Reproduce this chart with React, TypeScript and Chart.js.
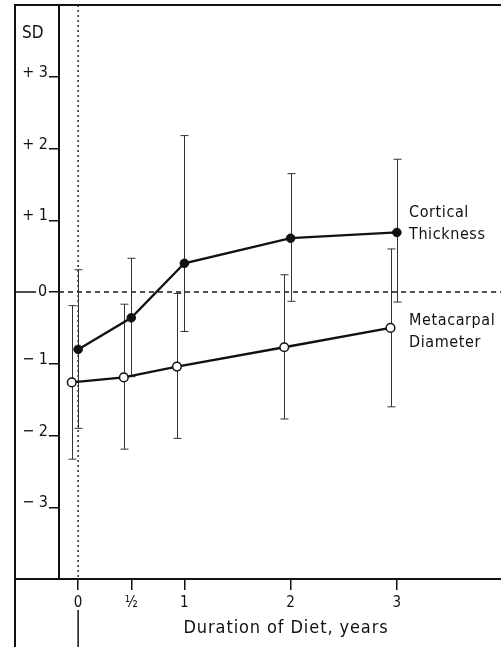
import React, { useEffect, useRef } from "react";
import { Chart, registerables } from "chart.js";
Chart.register(...registerables);

const FONT = '"DejaVu Sans Condensed", "Liberation Sans Narrow", "DejaVu Sans", sans-serif';

// Axis ticks
const xTicks = [0, 0.5, 1, 2, 3];
const xTickLabels = ["0", "½", "1", "2", "3"];
const yTicks = [3, 2, 1, 0, -1, -2, -3];
const yTickLabels = ["+ 3", "+ 2", "+ 1", "0", "− 1", "− 2", "− 3"];

// Cortical Thickness (filled circles)
const corticalX = [0, 0.5, 1, 2, 3];
const corticalY = [-0.8, -0.36, 0.4, 0.75, 0.83];
const corticalHigh = [0.31, 0.47, 2.18, 1.65, 1.85];
const corticalLow = [-1.9, -1.18, -0.55, -0.13, -0.14];

// Metacarpal Diameter (open circles)
const metacarpalX = [-0.06, 0.43, 0.93, 1.94, 2.94];
const metacarpalY = [-1.26, -1.19, -1.04, -0.77, -0.5];
const metacarpalHigh = [-0.19, -0.17, -0.02, 0.24, 0.6];
const metacarpalLow = [-2.33, -2.19, -2.04, -1.77, -1.6];

const errorSeries = [
  { xs: corticalX, hi: corticalHigh, lo: corticalLow },
  { xs: metacarpalX, hi: metacarpalHigh, lo: metacarpalLow },
];

const decor = {
  id: "decor",
  beforeDatasetsDraw(chart: any) {
    const { ctx, chartArea, scales } = chart;
    const x = scales.x;
    const y = scales.y;
    ctx.save();
    ctx.strokeStyle = "#1a1a1a";
    // dotted vertical line at time 0
    const x0 = x.getPixelForValue(0);
    ctx.lineWidth = 1.4;
    ctx.setLineDash([2, 3]);
    ctx.beginPath();
    ctx.moveTo(x0, chartArea.top);
    ctx.lineTo(x0, chartArea.bottom);
    ctx.stroke();
    // dashed horizontal line at SD 0
    const y0 = y.getPixelForValue(0);
    ctx.setLineDash([5, 4]);
    ctx.lineWidth = 1.3;
    ctx.beginPath();
    ctx.moveTo(chartArea.left, y0);
    ctx.lineTo(chartArea.right, y0);
    ctx.stroke();
    ctx.setLineDash([]);
    // error bars
    ctx.lineWidth = 1;
    ctx.strokeStyle = "#333";
    errorSeries.forEach((s) => {
      s.xs.forEach((xv, i) => {
        const px = Math.round(x.getPixelForValue(xv)) + 0.5;
        const ph = y.getPixelForValue(s.hi[i]);
        const pl = y.getPixelForValue(s.lo[i]);
        ctx.beginPath();
        ctx.moveTo(px, ph);
        ctx.lineTo(px, pl);
        ctx.moveTo(px - 4, ph);
        ctx.lineTo(px + 4, ph);
        ctx.moveTo(px - 4, pl);
        ctx.lineTo(px + 4, pl);
        ctx.stroke();
      });
    });
    ctx.restore();
  },
  afterDraw(chart: any) {
    const { ctx, chartArea, scales } = chart;
    const x = scales.x;
    const y = scales.y;
    ctx.save();
    ctx.strokeStyle = "#111";
    ctx.lineWidth = 2;
    // outer frame
    ctx.beginPath();
    ctx.moveTo(15, 647);
    ctx.lineTo(15, chartArea.top);
    ctx.lineTo(chartArea.right, chartArea.top);
    ctx.moveTo(15, chartArea.bottom);
    ctx.lineTo(chartArea.left, chartArea.bottom);
    ctx.stroke();
    // line below the 0 label
    const x0 = x.getPixelForValue(0);
    ctx.lineWidth = 1.5;
    ctx.beginPath();
    ctx.moveTo(x0, 610);
    ctx.lineTo(x0, 647);
    ctx.stroke();
    // y tick labels
    ctx.fillStyle = "#111";
    ctx.font = `16px ${FONT}`;
    yTicks.forEach((v, i) => {
      const py = y.getPixelForValue(v);
      if (v === 0) {
        ctx.textAlign = "center";
        ctx.textBaseline = "middle";
        ctx.fillText(yTickLabels[i], 42.5, py);
        ctx.beginPath();
        ctx.moveTo(15, py);
        ctx.lineTo(36, py);
        ctx.stroke();
      } else {
        ctx.textAlign = "right";
        ctx.textBaseline = "alphabetic";
        ctx.fillText(yTickLabels[i], 48, py);
      }
    });
    // SD label
    ctx.textAlign = "left";
    ctx.textBaseline = "middle";
    ctx.font = `17px ${FONT}`;
    ctx.fillText("SD", 22, 34);
    // series labels
    ctx.font = `16px ${FONT}`;
    (ctx as any).letterSpacing = "0.6px";
    ctx.fillText("Cortical", 409, 213);
    ctx.fillText("Thickness", 409, 235);
    ctx.fillText("Metacarpal", 409, 321);
    ctx.fillText("Diameter", 409, 343);
    // x axis title
    ctx.textAlign = "center";
    ctx.textBaseline = "alphabetic";
    ctx.font = `18px ${FONT}`;
    (ctx as any).letterSpacing = "0.9px";
    ctx.fillText("Duration of Diet, years", 286, 633);
    (ctx as any).letterSpacing = "0px";
    ctx.restore();
  },
};

export default function App() {
  const ref = useRef<HTMLCanvasElement>(null);
  useEffect(() => {
    if (!ref.current) return;
    Chart.defaults.font.family = FONT;
    const chart = new Chart(ref.current, {
      type: "line",
      data: {
        datasets: [
          {
            label: "Cortical Thickness",
            data: corticalX.map((xv, i) => ({ x: xv, y: corticalY[i] })),
            borderColor: "#111",
            borderWidth: 2.3,
            pointRadius: 4.3,
            pointBackgroundColor: "#111",
            pointBorderColor: "#111",
            pointBorderWidth: 1,
            tension: 0,
          },
          {
            label: "Metacarpal Diameter",
            data: metacarpalX.map((xv, i) => ({ x: xv, y: metacarpalY[i] })),
            borderColor: "#111",
            borderWidth: 2.3,
            pointRadius: 4.3,
            pointBackgroundColor: "#fff",
            pointBorderColor: "#111",
            pointBorderWidth: 1.5,
            tension: 0,
          },
        ],
      },
      options: {
        animation: false,
        responsive: false,
        maintainAspectRatio: false,
        layout: { autoPadding: false, padding: { top: 5, left: 0, right: 0, bottom: 0 } },
        plugins: { legend: { display: false }, tooltip: { enabled: false } },
        scales: {
          x: {
            type: "linear",
            min: -0.18,
            max: 3.98,
            afterBuildTicks: (scale: any) => {
              scale.ticks = xTicks.map((v) => ({ value: v }));
            },
            afterFit: (scale: any) => {
              scale.height = 68;
            },
            grid: {
              drawOnChartArea: false,
              drawTicks: true,
              tickLength: 11,
              color: "#111",
              lineWidth: 1.5,
            },
            border: { display: true, color: "#111", width: 2 },
            ticks: {
              autoSkip: false,
              maxRotation: 0,
              padding: 4,
              color: "#111",
              font: { size: 15, family: FONT },
              callback: (v: any) => {
                const i = xTicks.indexOf(Number(v));
                return i >= 0 ? xTickLabels[i] : "";
              },
            },
          },
          y: {
            type: "linear",
            min: -4,
            max: 4,
            afterBuildTicks: (scale: any) => {
              scale.ticks = yTicks.map((v) => ({ value: v }));
            },
            afterFit: (scale: any) => {
              scale.width = 59;
            },
            grid: {
              drawOnChartArea: false,
              drawTicks: true,
              tickLength: 10,
              color: "#111",
              lineWidth: 1.5,
            },
            border: { display: true, color: "#111", width: 2 },
            ticks: { display: false },
          },
        },
      },
      plugins: [decor],
    });
    return () => chart.destroy();
  }, []);
  return (
    <div style={{ position: "absolute", left: 0, top: 0, width: 501, height: 647, background: "#fff" }}>
      <canvas ref={ref} width={501} height={647} />
    </div>
  );
}
